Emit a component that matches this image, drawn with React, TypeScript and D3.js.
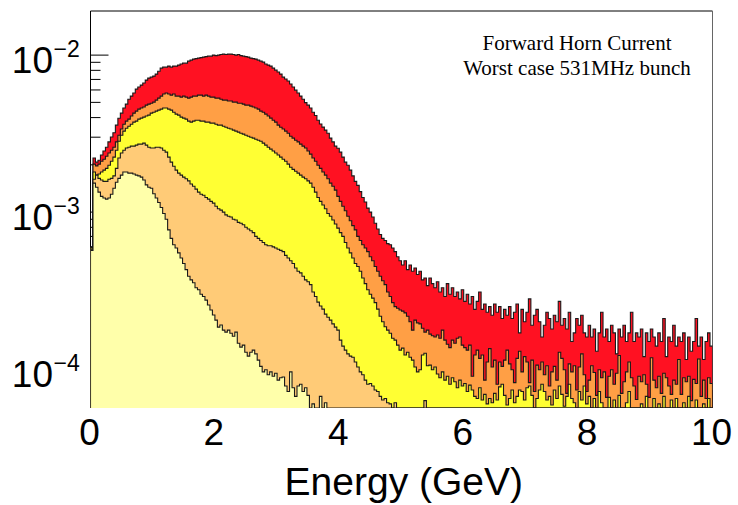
import React from "react";
import * as d3 from "d3";

// Stacked histogram contents, in units of 1e-5.
// Each array is the cumulative (stacked) height of the layer and all layers below it.
const UNIT = 1e-5;
const BIN_WIDTH = 0.04; // GeV
const N_BINS = 250;
const X_DOMAIN = [0, 10];
const Y_DOMAIN = [5.65e-5, 1.91e-2];
const xTickLabels = [0, 2, 4, 6, 8, 10];
const yLabelPowers = [-2, -3, -4];
const titleLines = ["Forward Horn Current", "Worst case 531MHz bunch"];
const xAxisTitle = "Energy (GeV)";

const stackRed = [
  60, 221, 208, 214, 231, 245, 259, 280, 301, 320,
  358, 396, 427, 460, 487, 524, 548, 574, 607, 626,
  644, 664, 693, 714, 724, 735, 757, 790, 826, 838,
  838, 851, 838, 851, 851, 864, 877, 889, 889, 915,
  929, 943, 950, 957, 964, 971, 978, 985, 985, 1000,
  993, 1000, 1008, 1015, 1008, 1015, 1015, 1008, 1000, 1008,
  993, 985, 978, 971, 957, 950, 943, 929, 915, 902,
  877, 864, 851, 826, 802, 780, 757, 724, 704, 684,
  655, 626, 598, 574, 548, 524, 498, 480, 460, 433,
  412, 385, 364, 348, 333, 318, 296, 280, 263, 255,
  241, 224, 208, 199, 185, 170, 157, 148, 135, 124,
  116, 106, 100, 93, 85, 78, 72, 68, 66, 63,
  62, 59, 56, 52, 49, 46, 49, 43, 46, 42,
  44, 40, 42, 37, 38, 34, 38, 35, 33, 36,
  31, 33, 29, 35, 30, 33, 29, 31, 28, 32,
  27, 30, 26, 29, 24, 27, 31, 24, 26, 23,
  25, 22, 26, 23, 25, 21, 24, 22, 25, 21,
  23, 26, 17, 24, 20, 23, 28, 19, 22, 24,
  20, 16, 19, 23, 21, 18, 22, 20, 27, 19,
  21, 18, 23, 15, 17, 21, 19, 22, 17, 16,
  19, 16, 18, 13, 17, 23, 16, 18, 15, 19,
  17, 12.5, 18, 16, 19, 15, 17, 23, 15, 17,
  16, 18, 12, 17, 15, 18, 16, 14, 17, 15,
  21, 12, 16, 15, 19, 14, 16, 15, 17, 11.5,
  16, 13, 15, 21, 14, 16, 11.5, 15, 17, 14,
];

const stackOrange = [
  59.5, 202, 197, 202, 211, 217, 227, 238, 248, 259,
  280, 309, 338, 363, 380, 391, 409, 427, 440, 453,
  460, 467, 480, 487, 494, 502, 517, 532, 548, 565,
  574, 565, 556, 565, 548, 548, 540, 548, 540, 532,
  540, 548, 548, 556, 556, 548, 556, 548, 540, 540,
  532, 532, 524, 517, 517, 510, 510, 502, 502, 494,
  494, 487, 480, 480, 473, 467, 460, 453, 440, 433,
  421, 409, 397, 385, 374, 358, 347, 338, 328, 318,
  304, 296, 287, 280, 271, 263, 256, 245, 234, 221,
  211, 199, 190, 180, 172, 163, 153, 146, 138, 126,
  117, 109, 102, 94, 88, 82, 77, 70, 66, 62,
  59, 56, 52, 49, 45, 42, 39, 36.5, 34.5, 31,
  29, 26.5, 25, 24.4, 23.8, 23.4, 22.8, 21.7, 20, 17.7,
  20.5, 19.7, 19.4, 18.2, 17.2, 17.7, 16.7, 16.3, 16, 16.5,
  15.7, 17.7, 15.3, 14.4, 13.7, 15.3, 14.6, 15.7, 16, 14.2,
  13.7, 13.2, 14.2, 9, 12.3, 13.2, 11.7, 12.3, 8.5, 11.1,
  13.5, 10.3, 11.4, 8, 11.1, 10.4, 11.4, 13.2, 10.8, 9.9,
  8.2, 11.7, 13, 9.6, 12, 11.1, 8.2, 11.4, 7.2, 10.6,
  9.9, 11.1, 9.2, 10.5, 7.8, 9.6, 10.4, 8.5, 12.8, 11.7,
  9.9, 7, 10.8, 9.6, 10.5, 7.35, 10.3, 12.5, 9.2, 7.2,
  8.5, 10.5, 9.5, 6.8, 9.9, 8.8, 9.6, 6.6, 9, 9.9,
  8, 9.4, 12.2, 7, 8.3, 9.6, 11.1, 8.8, 7.8, 6.4,
  9, 8.3, 9.2, 8, 6.6, 11.8, 8.5, 7.6, 9, 7,
  9.4, 8.8, 7.8, 6.9, 8.5, 8, 11.5, 6.9, 8.8, 8.3,
  9, 6.3, 8.6, 8.1, 11.6, 6.7, 8.5, 6.5, 8.8, 8.1,
];

const stackYellow = [
  59, 180, 172, 175, 180, 185, 190, 199, 211, 224,
  248, 283, 309, 328, 342, 352, 363, 374, 380, 391,
  397, 403, 409, 415, 427, 433, 440, 446, 453, 460,
  460, 453, 446, 433, 421, 415, 403, 397, 391, 380,
  374, 380, 385, 385, 380, 380, 374, 374, 369, 369,
  363, 358, 358, 352, 347, 342, 338, 333, 328, 323,
  318, 314, 309, 304, 300, 296, 291, 287, 283, 275,
  267, 259, 252, 245, 238, 231, 224, 217, 211, 202,
  193, 187, 182, 177, 172, 167, 163, 158, 153, 144,
  134, 124, 117, 111, 105, 98, 94, 89, 84, 79,
  74, 70, 64, 59, 55, 51, 47, 45, 42, 38,
  35, 32, 30, 28.3, 26.5, 24.1, 21.7, 20, 18.6, 17.7,
  16.9, 15.7, 15.3, 14.2, 13.2, 13.6, 12.3, 12.8, 11.9, 11.4,
  10.3, 9.6, 9.9, 12.3, 12.6, 10.5, 10.6, 9.9, 10.3, 9.3,
  8.8, 9.6, 8.5, 9, 8, 8.8, 8.3, 7.6, 8.5, 7.8,
  8.1, 7.2, 7.9, 7.35, 6.7, 6.5, 7.6, 6.35, 6.9, 6,
  6.5, 6.1, 7, 6.35, 7.7, 8, 6.8, 5.9, 6.5, 7.35,
  6.1, 6.7, 7.35, 7.2, 6.35, 7.6, 7.8, 6.8, 0, 6.5,
  7.35, 8, 7.2, 6.35, 6.7, 5.9, 7.35, 6.5, 7.8, 6.9,
  5.8, 6.7, 8, 6.5, 6.1, 0, 7.2, 6.35, 7.8, 6,
  6.7, 0, 6.5, 0, 7.2, 6.1, 0, 0, 6.6, 0,
  6.35, 0, 6.8, 0, 0, 6.1, 7.2, 0, 0, 0,
  0, 6, 0, 6.7, 0, 0, 6.5, 0, 6, 0,
  6.7, 0, 0, 6.35, 0, 6.5, 0, 0, 6.1, 0,
  6.7, 0, 0, 6.35, 0, 0, 6, 0, 6.5, 0,
];

// bins beyond the end of these arrays are empty
const stackLightOrange = [
  58, 162, 172, 164, 160, 157, 157, 162, 164, 170,
  190, 221, 238, 248, 256, 259, 263, 263, 267, 271,
  271, 275, 267, 259, 256, 256, 259, 259, 256, 248,
  241, 224, 208, 196, 185, 177, 172, 167, 163, 158,
  151, 146, 140, 134, 130, 128, 124, 121, 117, 114,
  109, 105, 103, 100, 96, 94, 93, 90, 89, 86,
  85, 83, 80, 78, 76, 74, 70, 68, 66, 64,
  62, 61, 61, 60, 59, 58, 57, 56, 53, 51,
  49, 47, 44, 42, 41, 39, 37, 36, 34.5, 31,
  29, 26.7, 25.2, 24.1, 22.4, 21.4, 20.5, 19.4, 18.5, 17.7,
  15.3, 14, 13.2, 12.5, 12.1, 11.9, 11.1, 10.3, 9.6, 9.2,
  8.5, 8, 8.1, 7.8, 7.35, 7.2, 6.7, 6.35, 6.5, 6.1,
  6, 0, 6.1, 0, 0, 0, 0, 0, 0, 0,
  0, 0, 0, 0, 6.3, 0, 0, 0, 0, 0,
];

const stackPale = [
  57, 153, 144, 134, 126, 123, 121, 123, 130, 142,
  155, 164, 172, 180, 180, 177, 177, 175, 172, 170,
  167, 160, 149, 144, 142, 131, 123, 115, 107, 98,
  90, 77, 68, 62, 59, 55, 51, 47, 43, 39,
  37, 35.5, 33, 32, 30, 29, 27.5, 25.6, 23.8, 22.1,
  20.5, 18.5, 19.1, 17.7, 17.2, 17.7, 16.9, 16.2, 17.2, 14.6,
  13.8, 14.2, 12.8, 12.1, 12.8, 13.2, 12.5, 11.4, 10.4, 9.6,
  9.9, 9.2, 9.6, 9, 9.4, 8.5, 8.8, 8.9, 7.8, 7.2,
  9.6, 7.6, 6.7, 7.8, 8, 7.2, 7.6, 6.8, 0, 6,
  0, 0, 6.7, 0, 6.1, 0, 0, 0, 0, 0,
];

const layers = [
  { key: "red", data: stackRed, fill: "#ff1122" },
  { key: "orange", data: stackOrange, fill: "#ff9f45" },
  { key: "yellow", data: stackYellow, fill: "#ffff33" },
  { key: "lightOrange", data: stackLightOrange, fill: "#ffcb77" },
  { key: "pale", data: stackPale, fill: "#ffffaa" },
];

const W = 738;
const H = 505;
const SANS = "'Liberation Sans', Arial, Helvetica, sans-serif";
const SERIF = "'Liberation Serif', 'Times New Roman', serif";

export default function App() {
  const x = d3.scaleLinear().domain(X_DOMAIN).range([90.5, 712.5]);
  const y = d3.scaleLog().domain(Y_DOMAIN).range([408, 11]);
  const [x0, x1] = x.range();
  const [yb, yt] = y.range();

  const stepPoints = (arr: number[]) => {
    const p: [number, number][] = [];
    for (let i = 0; i < N_BINS; i++) {
      const v = Math.max((arr[i] ?? 0) * UNIT, Y_DOMAIN[0]);
      const yy = y(v);
      p.push([x(i * BIN_WIDTH), yy], [x((i + 1) * BIN_WIDTH), yy]);
    }
    return p;
  };

  const area = d3
    .area<[number, number]>()
    .x((d) => d[0])
    .y0(yb)
    .y1((d) => d[1]);
  const line = d3.line<[number, number]>();

  const yTicks = y.ticks();
  const isMajor = (t: number) =>
    Math.abs(Math.log10(t) - Math.round(Math.log10(t))) < 1e-6;

  return (
    <svg
      width={W}
      height={H}
      style={{ position: "absolute", left: 0, top: 0, background: "#fff" }}
    >
      <defs>
        <clipPath id="frameClip">
          <rect x={x0} y={yt} width={x1 - x0} height={yb - yt} />
        </clipPath>
      </defs>
      <rect width={W} height={H} fill="#fff" />
      {/* frame */}
      <line x1={x0} y1={yt} x2={x1} y2={yt} stroke="#000" strokeWidth={1} />
      <line x1={x0} y1={yt} x2={x0} y2={yb} stroke="#000" strokeWidth={1} />
      <line x1={x1} y1={yt} x2={x1} y2={yb} stroke="#666" strokeWidth={1} />
      {/* y ticks */}
      {yTicks.map((t, i) => (
        <line
          key={"yt" + i}
          x1={x0}
          x2={x0 + (isMajor(t) ? 18 : 10)}
          y1={y(t)}
          y2={y(t)}
          stroke="#000"
          strokeWidth={1}
        />
      ))}
      {/* x ticks (hidden under the fills, as in the original) */}
      {d3.range(0, 10.001, 0.5).map((t, i) => (
        <line
          key={"xt" + i}
          x1={x(t)}
          x2={x(t)}
          y1={yb}
          y2={yb - (Math.abs(t % 2) < 1e-6 ? 18 : 10)}
          stroke="#000"
        />
      ))}
      {/* histograms, back to front */}
      <g clipPath="url(#frameClip)">
        {layers.map((l) => {
          const pts = stepPoints(l.data);
          const outline: [number, number][] = [
            [x(X_DOMAIN[0]), yb],
            ...pts,
            [x(X_DOMAIN[1]), yb],
          ];
          return (
            <g key={l.key}>
              <path d={area(pts) || ""} fill={l.fill} stroke="none" />
              <path
                d={line(outline) || ""}
                fill="none"
                stroke="#1a1a1a"
                strokeWidth={1.1}
                strokeLinejoin="miter"
              />
            </g>
          );
        })}
      </g>
      {/* x tick labels */}
      {xTickLabels.map((v) => (
        <text
          key={"xl" + v}
          x={x(v) - 1}
          y={445}
          textAnchor="middle"
          fontFamily={SANS}
          fontSize={37}
          fill="#000"
        >
          {v}
        </text>
      ))}
      {/* y tick labels */}
      {yLabelPowers.map((p) => {
        const ty = y(Math.pow(10, p));
        return (
          <g key={"yl" + p}>
            <text
              x={53}
              y={ty + 18.3}
              textAnchor="end"
              fontFamily={SANS}
              fontSize={37}
              fill="#000"
            >
              10
            </text>
            <text
              x={53.5}
              y={ty + 2}
              textAnchor="start"
              fontFamily={SANS}
              fontSize={23}
              fill="#000"
            >
              {"\u2212" + Math.abs(p)}
            </text>
          </g>
        );
      })}
      {/* axis title */}
      <text
        x={523}
        y={495}
        textAnchor="end"
        fontFamily={SANS}
        fontSize={39}
        fill="#000"
      >
        {xAxisTitle}
      </text>
      {/* annotation */}
      {titleLines.map((t, i) => (
        <text
          key={"tl" + i}
          x={577}
          y={50 + i * 25}
          textAnchor="middle"
          fontFamily={SERIF}
          fontSize={21}
          fill="#000"
        >
          {t}
        </text>
      ))}
    </svg>
  );
}
